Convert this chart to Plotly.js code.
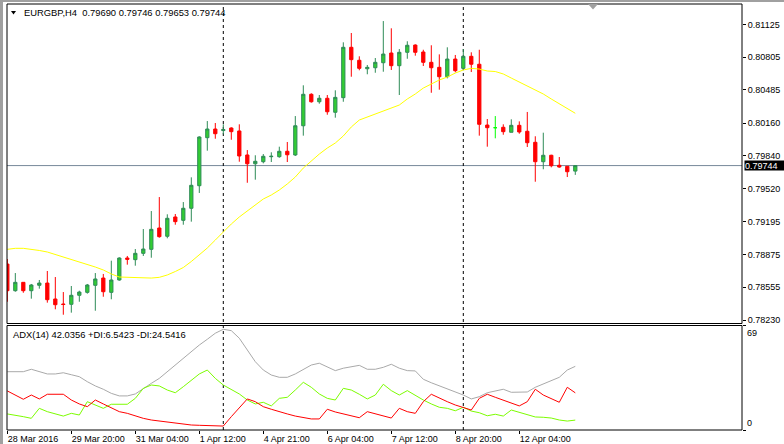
<!DOCTYPE html>
<html><head><meta charset="utf-8">
<script src="https://cdn.plot.ly/plotly-3.0.1.min.js"></script>
<style>html,body{margin:0;padding:0;background:#fff;overflow:hidden}#chart{width:784px;height:444px}</style>
</head><body><div id="chart"></div>
<script>
// ---------- DATA ----------
const symbolTitle = "EURGBP,H4\u00A0\u00A00.79690 0.79746 0.79653 0.79744";
const adxTitle = "ADX(14) 42.0356 +DI:6.5423 -DI:24.5416";
const lastPrice = 0.79744;

const openP = [
0.78780,0.78519,0.78601,0.78519,0.78572,0.78594,0.78438,0.78389,0.78386,0.78474,
0.78503,0.78572,0.78643,0.78503,0.78624,0.78839,0.78823,0.78885,0.78924,0.79133,
0.79052,0.79241,0.79208,0.79326,0.79547,0.80017,0.80102,0.80087,0.80112,0.80083,
0.79848,0.79762,0.79782,0.79831,0.79831,0.79884,0.79848,0.80134,0.80442,0.80369,
0.80403,0.80266,0.80409,0.80902,0.80775,0.80692,0.80702,0.80751,0.80846,0.80722,
0.80853,0.80924,0.80856,0.80755,0.80706,0.80614,0.80787,0.80696,0.80814,0.80736,
0.80141,0.80115,0.80119,0.80070,0.80138,0.80080,0.79972,0.79782,0.79845,0.79747,
0.79737,0.79690];
const highP = [
0.78829,0.78692,0.78601,0.78585,0.78624,0.78712,0.78653,0.78506,0.78565,0.78519,
0.78585,0.78692,0.78683,0.78813,0.78846,0.78859,0.78927,0.79123,0.79299,0.79436,
0.79267,0.79270,0.79387,0.79629,0.80031,0.80180,0.80161,0.80148,0.80119,0.80148,
0.79896,0.79845,0.79857,0.79874,0.79929,0.79975,0.80229,0.80530,0.80452,0.80435,
0.80435,0.80481,0.80951,0.81042,0.80814,0.80729,0.80797,0.81159,0.81088,0.80885,
0.80961,0.80931,0.80878,0.80922,0.80833,0.80902,0.80827,0.80885,0.80853,0.80878,
0.80200,0.80229,0.80148,0.80197,0.80177,0.80269,0.80031,0.80066,0.79850,0.79828,
0.79737,0.79746];
const lowP = [
0.78411,0.78509,0.78499,0.78441,0.78539,0.78402,0.78337,0.78284,0.78304,0.78411,
0.78490,0.78323,0.78460,0.78435,0.78617,0.78774,0.78764,0.78859,0.78842,0.79038,
0.79032,0.79165,0.79165,0.79195,0.79476,0.79890,0.80007,0.80050,0.79997,0.79782,
0.79576,0.79606,0.79766,0.79779,0.79821,0.79779,0.79838,0.80037,0.80360,0.80350,
0.80242,0.80213,0.80369,0.80614,0.80677,0.80638,0.80653,0.80663,0.80680,0.80435,
0.80790,0.80820,0.80719,0.80457,0.80487,0.80598,0.80657,0.80677,0.80660,0.80037,
0.79929,0.80011,0.80046,0.80070,0.80056,0.79926,0.79586,0.79708,0.79727,0.79723,
0.79632,0.79653];
const closeP = [
0.78519,0.78601,0.78519,0.78575,0.78594,0.78431,0.78382,0.78384,0.78474,0.78506,
0.78575,0.78634,0.78509,0.78624,0.78839,0.78826,0.78885,0.78927,0.79120,0.79048,
0.79228,0.79195,0.79326,0.79551,0.80024,0.80102,0.80056,0.80097,0.80076,0.79838,
0.79762,0.79786,0.79835,0.79835,0.79884,0.79850,0.80134,0.80442,0.80369,0.80403,
0.80271,0.80412,0.80902,0.80781,0.80696,0.80706,0.80755,0.80836,0.80722,0.80853,
0.80922,0.80853,0.80755,0.80702,0.80614,0.80787,0.80673,0.80814,0.80736,0.80148,
0.80115,0.80115,0.80076,0.80138,0.80073,0.79968,0.79782,0.79845,0.79743,0.79730,
0.79684,0.79744];
const maLine = [
0.78924,0.78934,0.78934,0.78927,0.78913,0.78898,0.78873,0.78854,0.78829,0.78805,
0.78780,0.78751,0.78722,0.78683,0.78653,0.78650,0.78643,0.78640,0.78643,0.78650,
0.78673,0.78707,0.78746,0.78805,0.78869,0.78937,0.79015,0.79094,0.79172,0.79241,
0.79299,0.79358,0.79417,0.79456,0.79505,0.79564,0.79632,0.79720,0.79789,0.79857,
0.79916,0.79965,0.80034,0.80122,0.80190,0.80220,0.80249,0.80278,0.80308,0.80337,
0.80396,0.80445,0.80503,0.80543,0.80582,0.80611,0.80650,0.80680,0.80696,0.80689,
0.80670,0.80665,0.80641,0.80601,0.80562,0.80523,0.80484,0.80445,0.80396,0.80347,
0.80298,0.80256];
const adx = [
38.5,38.5,38.5,40.1,38.5,37.0,37.0,37.8,36.5,35.2,
31.9,29.1,26.9,24.2,22.5,22.5,23.8,27.5,30.8,34.1,
38.5,42.9,47.4,51.7,56.1,59.9,63.9,66.5,65.6,60.6,
52.8,45.1,39.6,36.3,34.8,34.8,37.0,40.1,42.9,44.1,
41.8,39.2,40.8,41.8,42.7,40.1,40.1,41.4,43.4,40.8,
39.2,39.0,33.5,31.2,29.1,27.5,25.3,23.1,20.5,22.0,
24.6,26.0,26.9,24.9,24.9,25.1,28.2,30.4,32.4,34.8,
39.6,42.04];
const plusDI = [
10.6,9.9,8.8,7.7,14.3,12.1,10.6,9.2,11.0,9.9,
18.7,16.5,14.3,17.0,17.0,17.0,20.9,27.5,29.7,29.1,
26.4,24.6,28.6,33.0,37.0,39.6,34.1,29.7,26.9,23.8,
19.8,17.2,18.3,15.9,20.9,21.6,26.4,31.5,28.2,23.8,
20.9,19.8,27.5,26.4,23.6,20.5,23.1,30.2,26.0,23.1,
26.0,22.7,19.8,17.2,15.0,14.3,12.7,15.0,12.5,11.4,
9.4,10.4,9.2,13.2,11.7,9.9,8.6,8.4,7.9,6.6,
5.9,6.54];
const minusDI = [
25.8,23.1,20.3,23.1,20.5,23.6,23.6,23.6,19.8,17.2,
15.4,19.8,17.2,14.7,12.1,11.0,9.2,7.7,6.6,5.9,
5.1,4.8,4.0,3.3,3.1,2.8,2.6,2.6,8.8,15.0,
20.5,18.7,15.4,13.7,11.9,10.6,9.2,8.1,7.3,7.3,
13.7,11.9,10.6,9.2,8.1,12.1,10.6,9.2,7.9,14.3,
12.1,11.0,18.7,23.6,20.9,18.7,16.5,15.0,13.2,20.9,
23.6,21.6,19.8,17.6,15.9,18.7,26.9,23.1,20.5,18.3,
28.2,24.54];
const priceTicks = [0.81125,0.80805,0.80485,0.80160,0.79840,0.79520,0.79195,0.78875,0.78555,0.78230];
const timeTickIdx = [0,8,16,24,32,40,48,56,64];
const timeTickLabels = ["28 Mar 2016","29 Mar 20:00","31 Mar 04:00","1 Apr 12:00","4 Apr 21:00","6 Apr 04:00","7 Apr 12:00","8 Apr 20:00","12 Apr 04:00"];
const separators = [27,57];
const adxMax = 69;

// ---------- LAYOUT HELPERS ----------
const W=784,H=444,ML=7,MR=42,MT=4,MB=14;
const plotW=W-ML-MR, plotH=H-MT-MB;
const pxX = px => (px-ML)/plotW;
const pxY = py => (H-MB-py)/plotH;
const FONT = "Liberation Sans, Arial, sans-serif";

const idx = openP.map((_,i)=>i);
const normal = idx.filter(i=>openP[i]!==closeP[i]);
const doji = idx.filter(i=>openP[i]===closeP[i]);
const pick = (arr, ids) => ids.map(i=>arr[i]);

const traces = [
 {type:'candlestick', x:normal, open:pick(openP,normal), high:pick(highP,normal), low:pick(lowP,normal), close:pick(closeP,normal),
  increasing:{line:{color:'#2E8B57',width:1}, fillcolor:'#32CD32'},
  decreasing:{line:{color:'#FF0000',width:1}, fillcolor:'#FF0000'},
  whiskerwidth:0, hoverinfo:'none', xaxis:'x', yaxis:'y', showlegend:false},
 {type:'candlestick', x:doji, open:pick(openP,doji), high:pick(highP,doji), low:pick(lowP,doji), close:pick(closeP,doji),
  increasing:{line:{color:'#00FF00',width:1}, fillcolor:'#00FF00'},
  decreasing:{line:{color:'#00FF00',width:1}, fillcolor:'#00FF00'},
  whiskerwidth:0, hoverinfo:'none', xaxis:'x', yaxis:'y', showlegend:false},
 {type:'scatter', mode:'lines', x:idx, y:maLine, line:{color:'#FFFF00',width:1}, hoverinfo:'none', xaxis:'x', yaxis:'y', showlegend:false},
 {type:'scatter', mode:'lines', x:idx, y:adx, line:{color:'#A9A9A9',width:1}, hoverinfo:'none', xaxis:'x', yaxis:'y2', showlegend:false},
 {type:'scatter', mode:'lines', x:idx, y:plusDI, line:{color:'#7CFC00',width:1}, hoverinfo:'none', xaxis:'x', yaxis:'y2', showlegend:false},
 {type:'scatter', mode:'lines', x:idx, y:minusDI, line:{color:'#FF0000',width:1}, hoverinfo:'none', xaxis:'x', yaxis:'y2', showlegend:false}
];

const mainBottom = pxY(323.5), subTop = pxY(325.5);

const shapes = [
 {type:'rect', xref:'paper', yref:'paper', x0:pxX(0), x1:pxX(784), y0:pxY(2), y1:pxY(0), fillcolor:'#A0A0A0', line:{width:0}, layer:'above'},
 {type:'rect', xref:'paper', yref:'paper', x0:pxX(0), x1:pxX(3), y0:pxY(444), y1:pxY(0), fillcolor:'#A0A0A0', line:{width:0}, layer:'above'},
 {type:'line', xref:'paper', yref:'y', x0:0, x1:1, y0:lastPrice, y1:lastPrice, line:{color:'#778899',width:1}, layer:'below'},
 {type:'rect', xref:'paper', yref:'paper', x0:0, x1:1, y0:mainBottom, y1:1, line:{color:'#000',width:1}, layer:'above'},
 {type:'rect', xref:'paper', yref:'paper', x0:0, x1:1, y0:0, y1:subTop, line:{color:'#000',width:1}, layer:'above'},
 {type:'path', xref:'paper', yref:'paper', path:`M ${pxX(11)} ${pxY(11)} L ${pxX(16)} ${pxY(11)} L ${pxX(13.5)} ${pxY(14.5)} Z`, fillcolor:'#000', line:{width:0}},
 {type:'path', xref:'paper', yref:'paper', path:`M ${pxX(588)} ${pxY(4)} L ${pxX(598)} ${pxY(4)} L ${pxX(593)} ${pxY(9.5)} Z`, fillcolor:'#A0A0A0', line:{width:0}, layer:'above'}
];
separators.forEach(s=>shapes.push({type:'line', xref:'x', yref:'paper', x0:s, x1:s, y0:0, y1:1, line:{color:'#000',width:1,dash:'3px,3px'}, layer:'below'}));

const annotations = [
 {xref:'paper', yref:'paper', x:pxX(22), y:pxY(12.5), xanchor:'left', yanchor:'middle', text:symbolTitle, showarrow:false, font:{family:FONT,size:9.4,color:'#000'}},
 {xref:'paper', yref:'paper', x:pxX(11), y:pxY(334), xanchor:'left', yanchor:'middle', text:adxTitle, showarrow:false, font:{family:FONT,size:9.4,color:'#000'}},
 {xref:'paper', yref:'y2', x:pxX(745), y:adxMax, xanchor:'left', yanchor:'top', text:String(adxMax), showarrow:false, font:{family:FONT,size:9,color:'#000'}},
 {xref:'paper', yref:'y2', x:pxX(745), y:0, xanchor:'left', yanchor:'bottom', text:'0', showarrow:false, font:{family:FONT,size:9,color:'#000'}},
 {xref:'paper', yref:'y', x:pxX(744), y:lastPrice, xanchor:'left', yanchor:'middle', text:lastPrice.toFixed(5), showarrow:false, bgcolor:'#000', borderpad:0, width:40, height:9, align:'left', font:{family:FONT,size:9,color:'#FFF'}}
];

const layout = {
 width:W, height:H, autosize:false,
 margin:{l:ML,r:MR,t:MT,b:MB,pad:0},
 paper_bgcolor:'#FFF', plot_bgcolor:'#FFF',
 font:{family:FONT,size:9,color:'#000'},
 showlegend:false, boxgap:0.42,
 xaxis:{range:[-0.04,91.84], anchor:'y2', tickmode:'array', tickvals:timeTickIdx, ticktext:timeTickLabels,
   ticks:'outside', ticklen:3, tickcolor:'#000', ticklabelposition:'outside right',
   showgrid:false, zeroline:false, showline:false, rangeslider:{visible:false}, fixedrange:true,
   tickfont:{family:FONT,size:9,color:'#000'}},
 yaxis:{domain:[mainBottom,1], range:[0.78198,0.81326], side:'right', anchor:'x', tickmode:'array',
   tickvals:priceTicks, ticktext:priceTicks.map(v=>v.toFixed(5)), ticks:'outside', ticklen:3, tickcolor:'#000',
   showgrid:false, zeroline:false, showline:false, fixedrange:true, tickfont:{family:FONT,size:9,color:'#000'}},
 yaxis2:{domain:[0,subTop], range:[0,adxMax], side:'right', anchor:'x', tickmode:'array', tickvals:[0,adxMax],
   showticklabels:false, ticks:'outside', ticklen:3, tickcolor:'#000',
   showgrid:false, zeroline:false, showline:false, fixedrange:true},
 shapes:shapes, annotations:annotations
};

Plotly.newPlot('chart', traces, layout, {staticPlot:true, displayModeBar:false});
</script></body></html>
